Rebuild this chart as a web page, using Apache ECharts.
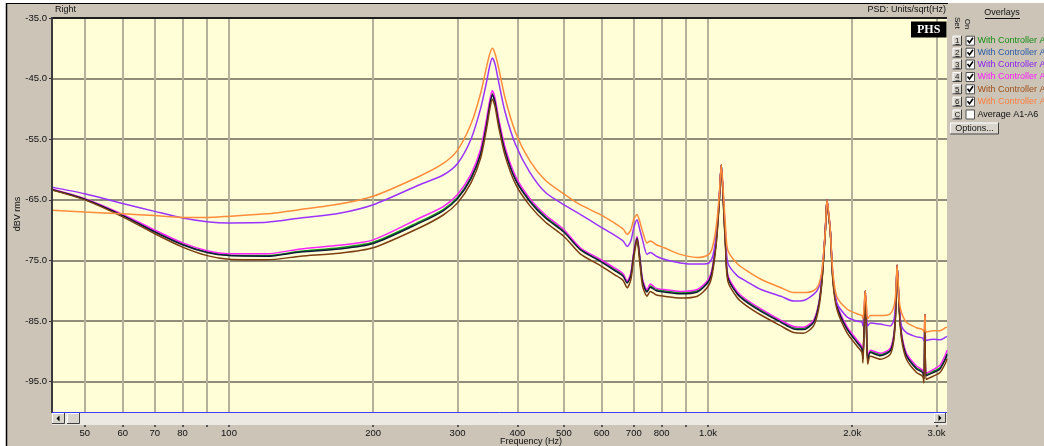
<!DOCTYPE html>
<html><head><meta charset="utf-8">
<script src="https://cdn.jsdelivr.net/npm/echarts@6/dist/echarts.min.js"></script>
<style>html,body{margin:0;padding:0;background:#ffffff}#c{width:1044px;height:446px}</style>
</head><body><div id="c"></div>
<script>
// ---------- data ----------
const freqHz = [42.7,50,60,70,80,90,100,120,141,170,200,250,280,300,320,335,345,350,354.5,359,365,377,397,425,458,500,541,595,640,665,678,690,700,711,720,730,746,758,780,810,875,950,1000,1020,1040,1055,1066,1077,1088,1100,1150,1200,1290,1420,1510,1583,1661,1702,1730,1758,1772,1786,1800,1823,1858,1950,2046,2096,2106,2118,2130,2142,2155,2182,2290,2401,2446,2468,2482,2495,2506,2535,2596,2725,2806,2824,2838,2851,2953,3050,3130,3155];

const seriesNames = ['With Controller A1','With Controller A2','With Controller A3','With Controller A4','With Controller A5','With Controller A6'];

const greenA1 = [-63.3,-64.9,-67.5,-70.2,-72.3,-73.6,-74.1,-74.2,-73.5,-72.9,-72.0,-68.6,-66.6,-64.6,-61.3,-57.3,-52.2,-49.2,-47.5,-48.6,-51.8,-56.8,-61.6,-65.1,-67.8,-70.1,-73.0,-74.9,-76.5,-77.4,-78.5,-77.3,-73.8,-71.2,-74.3,-78.3,-80.0,-79.2,-79.8,-80.0,-80.3,-80.0,-78.4,-76.6,-71.8,-65.4,-59.2,-65.4,-72.3,-77.6,-80.3,-81.6,-83.2,-85.0,-86.1,-86.2,-85.0,-82.3,-78.0,-70.0,-65.0,-67.5,-70.0,-78.0,-82.3,-86.1,-88.3,-89.4,-91.1,-85.9,-80.0,-85.9,-91.3,-90.0,-90.5,-89.7,-87.2,-82.4,-75.8,-78.9,-82.4,-87.2,-90.5,-92.7,-93.3,-94.4,-83.9,-93.8,-93.3,-92.7,-91.1,-90.3];

const blueA2 = [-63.3,-64.9,-67.6,-70.3,-72.4,-73.7,-74.2,-74.3,-73.6,-73.1,-72.2,-68.8,-66.8,-64.8,-61.5,-57.5,-52.5,-49.5,-47.7,-48.8,-52.0,-57.0,-61.8,-65.3,-68.0,-70.3,-73.2,-75.1,-76.7,-77.6,-78.7,-77.5,-74.0,-71.3,-74.5,-78.5,-80.2,-79.4,-80.0,-80.2,-80.5,-80.2,-78.6,-76.8,-72.0,-65.5,-59.2,-65.5,-72.5,-77.8,-80.5,-81.8,-83.4,-85.2,-86.3,-86.4,-85.2,-82.5,-78.1,-70.0,-65.0,-67.5,-70.0,-78.1,-82.5,-86.3,-88.5,-89.6,-91.3,-86.0,-80.0,-86.0,-91.5,-90.2,-90.7,-89.9,-87.4,-82.5,-75.8,-79.0,-82.5,-87.4,-90.7,-92.9,-93.5,-94.6,-83.9,-94.0,-93.5,-92.9,-91.3,-90.5];

const purpleA3 = [-62.9,-64.0,-65.6,-66.9,-68.0,-68.6,-68.8,-68.7,-68.0,-67.2,-65.8,-62.5,-60.9,-59.0,-55.0,-50.0,-45.5,-43.0,-41.6,-42.5,-45.3,-50.5,-56.0,-60.5,-63.8,-65.8,-67.4,-69.4,-70.9,-71.8,-72.7,-71.8,-69.6,-68.3,-69.8,-71.6,-74.0,-73.7,-74.3,-74.8,-75.4,-75.6,-75.5,-74.6,-71.0,-65.0,-59.2,-64.5,-70.5,-75.4,-77.5,-78.4,-79.8,-80.9,-81.7,-81.6,-80.6,-79.5,-76.8,-70.0,-65.0,-67.2,-70.0,-77.5,-82.0,-84.3,-85.0,-85.2,-85.8,-83.0,-80.0,-83.0,-85.8,-85.3,-85.5,-85.8,-84.7,-81.0,-75.8,-79.0,-82.5,-85.8,-86.9,-87.6,-87.8,-88.2,-83.9,-88.2,-88.0,-88.1,-87.7,-87.5];

const magentaA4 = [-63.2,-64.8,-67.4,-70.0,-72.1,-73.4,-73.9,-73.9,-73.1,-72.5,-71.6,-68.0,-66.1,-64.1,-60.8,-56.7,-51.6,-48.7,-47.0,-48.1,-51.3,-56.3,-61.2,-64.8,-67.5,-69.9,-72.9,-74.8,-76.3,-77.2,-78.4,-77.1,-73.6,-71.0,-74.1,-78.1,-79.8,-78.9,-79.6,-79.8,-80.1,-79.8,-78.2,-76.4,-71.6,-65.2,-59.2,-65.2,-72.1,-77.4,-80.1,-81.4,-83.0,-84.9,-85.9,-86.0,-84.9,-82.2,-77.8,-69.8,-65.0,-67.3,-69.8,-77.8,-82.2,-85.9,-88.1,-89.2,-91.0,-85.7,-80.0,-85.7,-91.1,-89.8,-90.3,-89.5,-87.0,-82.2,-75.8,-78.8,-82.2,-87.0,-90.3,-92.4,-93.1,-94.2,-83.9,-93.6,-93.0,-92.3,-90.6,-89.8];

const brownA5 = [-63.4,-65.0,-67.8,-70.6,-72.8,-74.2,-74.8,-74.9,-74.3,-73.8,-72.9,-69.6,-67.5,-65.5,-62.2,-58.2,-53.2,-50.2,-48.4,-49.5,-52.7,-57.7,-62.5,-66.0,-68.7,-71.0,-73.9,-75.8,-77.4,-78.3,-79.5,-78.2,-74.6,-71.6,-75.1,-79.2,-80.9,-80.1,-80.7,-80.9,-81.2,-80.9,-79.3,-77.4,-72.4,-65.8,-59.3,-65.8,-73.0,-78.4,-81.1,-82.4,-84.0,-85.8,-86.9,-87.0,-85.8,-83.0,-78.4,-70.2,-65.0,-67.7,-70.2,-78.4,-83.0,-86.9,-89.1,-90.2,-91.9,-86.3,-80.0,-86.3,-92.1,-90.8,-91.3,-90.5,-87.9,-82.8,-75.8,-79.2,-82.8,-87.9,-91.3,-93.5,-94.1,-95.2,-83.9,-94.6,-94.1,-93.5,-92.0,-91.2];

const orangeA6 = [-66.7,-67.0,-67.3,-67.6,-67.9,-67.9,-67.7,-67.3,-66.6,-65.7,-64.4,-61.1,-59.0,-56.8,-52.5,-47.5,-43.0,-41.0,-40.0,-40.8,-43.0,-48.2,-54.0,-58.6,-61.8,-64.0,-65.8,-67.4,-68.9,-69.8,-70.7,-70.0,-68.2,-67.4,-68.5,-70.2,-72.1,-71.8,-72.4,-72.9,-74.0,-74.5,-74.1,-73.0,-69.5,-64.5,-59.2,-64.0,-69.5,-73.3,-75.5,-76.6,-78.1,-79.5,-80.3,-80.3,-80.0,-79.0,-76.5,-70.0,-65.0,-67.0,-70.0,-77.0,-81.0,-83.0,-83.8,-84.1,-84.6,-82.5,-80.0,-82.5,-84.6,-84.1,-84.1,-83.8,-82.5,-80.0,-75.8,-78.5,-81.5,-83.6,-85.2,-86.1,-86.4,-86.8,-83.9,-86.8,-86.6,-86.6,-86.1,-86.0];

const xTickHz  = [50,60,70,80,90,100,200,300,400,500,600,700,800,900,1000,2000,3000];
const xLabelHz = [50,60,70,80,100,200,300,400,500,600,700,800,1000,2000,3000];
const yTickDb  = [-95,-85,-75,-65,-55,-45,-35];
const xRangeHz = [42.7, 3155];
const yRangeDb = [-100, -35];

// ---------- styles ----------
const lineColors   = ['#189a18','#0c1a3c','#9933ff','#ff22ff','#7b3f12','#ff8c3a'];
const legendColors = ['#178f17','#2a5ca8','#8c1ff0','#ff1aff','#a0501a','#ff7f3f'];
const drawOrder = [0,3,1,2,4,5];
const allValues = [greenA1, blueA2, purpleA3, magentaA4, brownA5, orangeA6];

const SANS = "'Liberation Sans', Arial, sans-serif";
const L = Math.log10;

const series = drawOrder.map(i => ({
  name: seriesNames[i],
  type: 'line',
  showSymbol: false,
  silent: true,
  animation: false,
  smooth: 0.25,
  lineStyle: { color: lineColors[i], width: 1.5 },
  data: freqHz.map((f, k) => [L(f), allValues[i][k]])
}));

// ---------- decorations (overlay panel etc.) ----------
const G = [];
G.push({ type: 'rect', shape: { x: 0, y: 0, width: 6, height: 446 }, style: { fill: '#ffffff' }, z: 100 });
G.push({ type: 'rect', shape: { x: 0, y: 0, width: 1044, height: 3 }, style: { fill: '#ffffff' }, z: 100 });
G.push({ type: 'line', shape: { x1: 6, y1: 3.5, x2: 948, y2: 3.5 }, style: { stroke: '#000', lineWidth: 1 }, z: 100 });
G.push({ type: 'line', shape: { x1: 6.5, y1: 3, x2: 6.5, y2: 446 }, style: { stroke: '#000', lineWidth: 1.5 }, z: 100 });
G.push({ type: 'line', shape: { x1: 51, y1: 18, x2: 947, y2: 18 }, style: { stroke: '#1e1e1e', lineWidth: 2 }, z: 100 });
G.push({ type: 'line', shape: { x1: 52, y1: 17, x2: 52, y2: 413 }, style: { stroke: '#3a3a3a', lineWidth: 2 }, z: 100 });
G.push({ type: 'line', shape: { x1: 52, y1: 412.5, x2: 947, y2: 412.5 }, style: { stroke: '#3c3cff', lineWidth: 1 }, z: 100 });
G.push({ type: 'rect', shape: { x: 52, y: 413, width: 895, height: 12 }, style: { fill: '#ece9e2' }, z: 99 });
function button3d(x, y, w, h) {
  G.push({ type: 'rect', shape: { x, y, width: w, height: h }, style: { fill: '#d9d5cd', stroke: null }, z: 101 });
  G.push({ type: 'polyline', shape: { points: [[x + 0.5, y + h], [x + 0.5, y + 0.5], [x + w, y + 0.5]] }, style: { stroke: '#ffffff', lineWidth: 1, fill: null }, z: 102 });
  G.push({ type: 'polyline', shape: { points: [[x, y + h - 0.5], [x + w - 0.5, y + h - 0.5], [x + w - 0.5, y]] }, style: { stroke: '#404040', lineWidth: 1, fill: null }, z: 102 });
}
button3d(52, 413, 13, 11);
G.push({ type: 'polygon', shape: { points: [[56.5, 418.5], [59.5, 415.5], [59.5, 421.5]] }, style: { fill: '#000' }, z: 103 });
button3d(67, 413, 13, 11);
button3d(934, 413, 12, 10);
G.push({ type: 'polygon', shape: { points: [[941.5, 418], [938.5, 415], [938.5, 421]] }, style: { fill: '#000' }, z: 103 });

G.push({ type: 'text', x: 55, y: 10, style: { text: 'Right', font: "9px " + SANS, fill: '#111', verticalAlign: 'middle' }, z: 101 });
G.push({ type: 'text', x: 946, y: 10, style: { text: 'PSD: Units/sqrt(Hz)', font: "9px " + SANS, fill: '#111', align: 'right', verticalAlign: 'middle' }, z: 101 });
G.push({ type: 'rect', shape: { x: 911, y: 21.5, width: 35.5, height: 16 }, style: { fill: '#000' }, z: 101 });
G.push({ type: 'text', x: 928.7, y: 29.8, style: { text: 'PHS', font: "bold 12px 'Liberation Serif', 'DejaVu Serif', serif", fill: '#fff', align: 'center', verticalAlign: 'middle' }, z: 102 });
G.push({ type: 'text', x: 18, y: 214, rotation: Math.PI / 2, style: { text: 'dBV rms', font: "9px " + SANS, fill: '#111', align: 'center', verticalAlign: 'middle' }, z: 101 });
G.push({ type: 'text', x: 531, y: 442, style: { text: 'Frequency (Hz)', font: "9px " + SANS, fill: '#111', align: 'center', verticalAlign: 'middle' }, z: 101 });

G.push({ type: 'text', x: 1002, y: 13, style: { text: 'Overlays', font: "9px " + SANS, fill: '#111', align: 'center', verticalAlign: 'middle' }, z: 101 });
G.push({ type: 'line', shape: { x1: 985, y1: 18.5, x2: 1020, y2: 18.5 }, style: { stroke: '#111', lineWidth: 1 }, z: 101 });
G.push({ type: 'text', x: 957, y: 23, rotation: -Math.PI / 2, style: { text: 'Set', font: "8px " + SANS, fill: '#111', align: 'center', verticalAlign: 'middle' }, z: 101 });
G.push({ type: 'text', x: 967, y: 24, rotation: -Math.PI / 2, style: { text: 'On', font: "8px " + SANS, fill: '#111', align: 'center', verticalAlign: 'middle' }, z: 101 });
const rowY = [40.7, 52.7, 64.5, 77, 89.3, 101.7, 114.5];
const rowKeys = ['1','2','3','4','5','6','C'];
const rowText = seriesNames.concat(['Average A1-A6']);
const rowColor = legendColors.concat(['#111']);
rowY.forEach((y, i) => {
  button3d(952.5, y - 5, 9.5, 10);
  G.push({ type: 'text', x: 957.3, y: y, style: { text: rowKeys[i], font: "8px " + SANS, fill: '#111', align: 'center', verticalAlign: 'middle' }, z: 103 });
  G.push({ type: 'line', shape: { x1: 955.5, y1: y + 3.8, x2: 959.5, y2: y + 3.8 }, style: { stroke: '#111', lineWidth: 0.8 }, z: 103 });
  G.push({ type: 'rect', shape: { x: 966, y: y - 4.5, width: 8.5, height: 9 }, style: { fill: '#ffffff', stroke: '#505050', lineWidth: 1 }, z: 101 });
  if (i < 6) {
    G.push({ type: 'polyline', shape: { points: [[967.5, y - 0.5], [969.5, y + 2], [973, y - 3]] }, style: { stroke: '#000', lineWidth: 1.6, fill: null }, z: 102 });
  }
  G.push({ type: 'text', x: 977.5, y: y, style: { text: rowText[i], font: "9px " + SANS, fill: rowColor[i], verticalAlign: 'middle' }, z: 101 });
});
button3d(950, 122.5, 49, 12);
G.push({ type: 'text', x: 974.5, y: 128.5, style: { text: 'Options...', font: "9px " + SANS, fill: '#111', align: 'center', verticalAlign: 'middle' }, z: 103 });

// ---------- chart ----------
const chart = echarts.init(document.getElementById('c'), null, { renderer: 'canvas' });
chart.setOption({
  backgroundColor: '#cbc4b7',
  animation: false,
  grid: { left: 52, top: 18, right: 97, bottom: 34, show: true, backgroundColor: '#fffed7', borderWidth: 0 },
  xAxis: {
    type: 'value',
    min: L(xRangeHz[0]), max: L(xRangeHz[1]),
    offset: 13,
    axisLine: { show: false },
    axisTick: { show: true, length: 2, customValues: xTickHz.map(L), lineStyle: { color: '#333', width: 1.5 } },
    axisLabel: {
      customValues: xLabelHz.map(L), margin: 3,
      fontFamily: SANS, fontSize: 9.5, color: '#111',
      formatter: v => { const f = Math.round(Math.pow(10, v)); return f >= 1000 ? (f / 1000).toFixed(1) + 'k' : String(f); }
    },
    splitLine: { show: true, lineStyle: { color: '#b3b19a', width: 2 } }
  },
  yAxis: {
    type: 'value', min: yRangeDb[0], max: yRangeDb[1],
    axisLine: { show: false },
    axisTick: { show: true, length: 3, customValues: yTickDb, lineStyle: { color: '#333' } },
    axisLabel: { customValues: yTickDb, margin: 5, fontFamily: SANS, fontSize: 9.5, color: '#111', formatter: v => v.toFixed(1) },
    splitLine: { show: true, lineStyle: { color: '#8f8d78', width: 2 } }
  },
  series: series,
  graphic: G
});
</script>
</body></html>
